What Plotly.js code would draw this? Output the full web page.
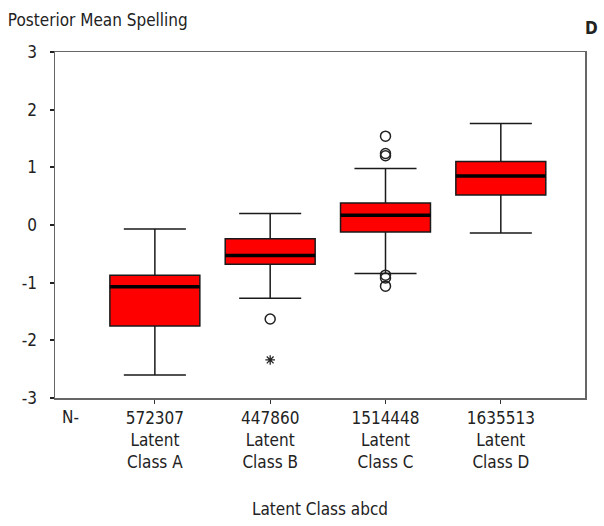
<!DOCTYPE html>
<html>
<head>
<meta charset="utf-8">
<script src="https://cdn.plot.ly/plotly-3.0.1.min.js"></script>
<style>html,body{margin:0;padding:0;background:#fff;}#chart{width:604px;height:526px;}</style>
</head>
<body>
<div id="chart"></div>
<script>
// Data
const categories = ["Latent Class A", "Latent Class B", "Latent Class C", "Latent Class D"];
const counts = ["572307", "447860", "1514448", "1635513"];
const lowerWhisker = [-2.60, -1.27, -0.84, -0.14];
const q1 = [-1.75, -0.68, -0.12, 0.52];
const medians = [-1.07, -0.53, 0.17, 0.85];
const q3 = [-0.87, -0.24, 0.38, 1.10];
const upperWhisker = [-0.07, 0.20, 0.98, 1.76];
// outliers (circles) and extremes (asterisks): [category index, value]
const outlierCat = [1, 2, 2, 2, 2, 2, 2];
const outlierVal = [-1.63, 1.54, 1.24, 1.20, -0.87, -0.92, -1.06];
const extremeCat = [1];
const extremeVal = [-2.34];
const yTicks = [3, 2, 1, 0, -1, -2, -3];
const yTickText = ["3", "2", "1", "0", "-1", "-2", "-3"];

const FONT = "'Liberation Sans Narrow', 'DejaVu Sans Condensed', 'Roboto', sans-serif";
const idx = categories.map((c, i) => i);
const boxW = 0.78;

const traces = [{
  type: 'box',
  x: idx,
  q1: q1, median: medians, q3: q3,
  lowerfence: lowerWhisker, upperfence: upperWhisker,
  width: boxW,
  whiskerwidth: 0.69,
  fillcolor: '#ff0000',
  line: {color: '#1a1a1a', width: 1.5},
  boxpoints: false,
  hoverinfo: 'skip',
  showlegend: false
}];

// thick median lines
const mx = [], my = [];
idx.forEach(i => { mx.push(i - boxW / 2, i + boxW / 2, null); my.push(medians[i], medians[i], null); });
traces.push({type: 'scatter', mode: 'lines', x: mx, y: my, line: {color: '#000', width: 3.5}, showlegend: false, hoverinfo: 'skip'});

traces.push({type: 'scatter', mode: 'markers', x: outlierCat, y: outlierVal,
  marker: {symbol: 'circle-open', size: 10, color: '#222', line: {width: 1.5, color: '#222'}}, showlegend: false});
traces.push({type: 'scatter', mode: 'markers', x: extremeCat, y: extremeVal,
  marker: {symbol: 'asterisk-open', size: 8, color: '#222', line: {width: 1.3, color: '#222'}}, showlegend: false});

const layout = {
  width: 604, height: 526,
  margin: {l: 55, r: 19, t: 52, b: 128},
  paper_bgcolor: '#fff', plot_bgcolor: '#fff',
  font: {family: FONT, size: 16, color: '#222'},
  xaxis: {
    range: [-0.866, 3.73],
    tickvals: idx,
    ticktext: idx.map(i => counts[i] + '<br>' + categories[i].replace('Latent ', 'Latent<br>')),
    ticks: 'outside', ticklen: 4, tickcolor: '#333',
    showgrid: false, zeroline: false,
    showline: true, linecolor: '#666', linewidth: 1.5, mirror: true,
    tickfont: {family: FONT, size: 17, color: '#222'},
    title: {text: 'Latent Class abcd', font: {family: FONT, size: 17, color: '#222'}, standoff: 32}
  },
  yaxis: {
    range: [-3, 3],
    tickvals: yTicks,
    ticktext: yTickText,
    ticks: 'outside', ticklen: 4, tickcolor: '#222', tickwidth: 2,
    ticklabelstandoff: 9,
    showgrid: false, zeroline: false,
    showline: true, linecolor: '#666', linewidth: 1.5, mirror: true,
    tickfont: {family: FONT, size: 17, color: '#222'}
  },
  title: {text: 'Posterior Mean Spelling', x: 0.013, xanchor: 'left', y: 0.962, yanchor: 'middle',
    font: {family: FONT, size: 17, color: '#222'}},
  annotations: [
    {text: 'N-', xref: 'paper', yref: 'paper', x: 0.01, y: -0.055, xanchor: 'left', yanchor: 'middle', showarrow: false,
      font: {family: FONT, size: 17, color: '#222'}},
    {text: '<b>D</b>', xref: 'paper', yref: 'paper', x: 1.028, y: 1.068, xanchor: 'right', yanchor: 'middle', showarrow: false,
      font: {family: FONT, size: 17, color: '#222'}}
  ]
};

Plotly.newPlot('chart', traces, layout, {displayModeBar: false, staticPlot: true});
</script>
</body>
</html>
